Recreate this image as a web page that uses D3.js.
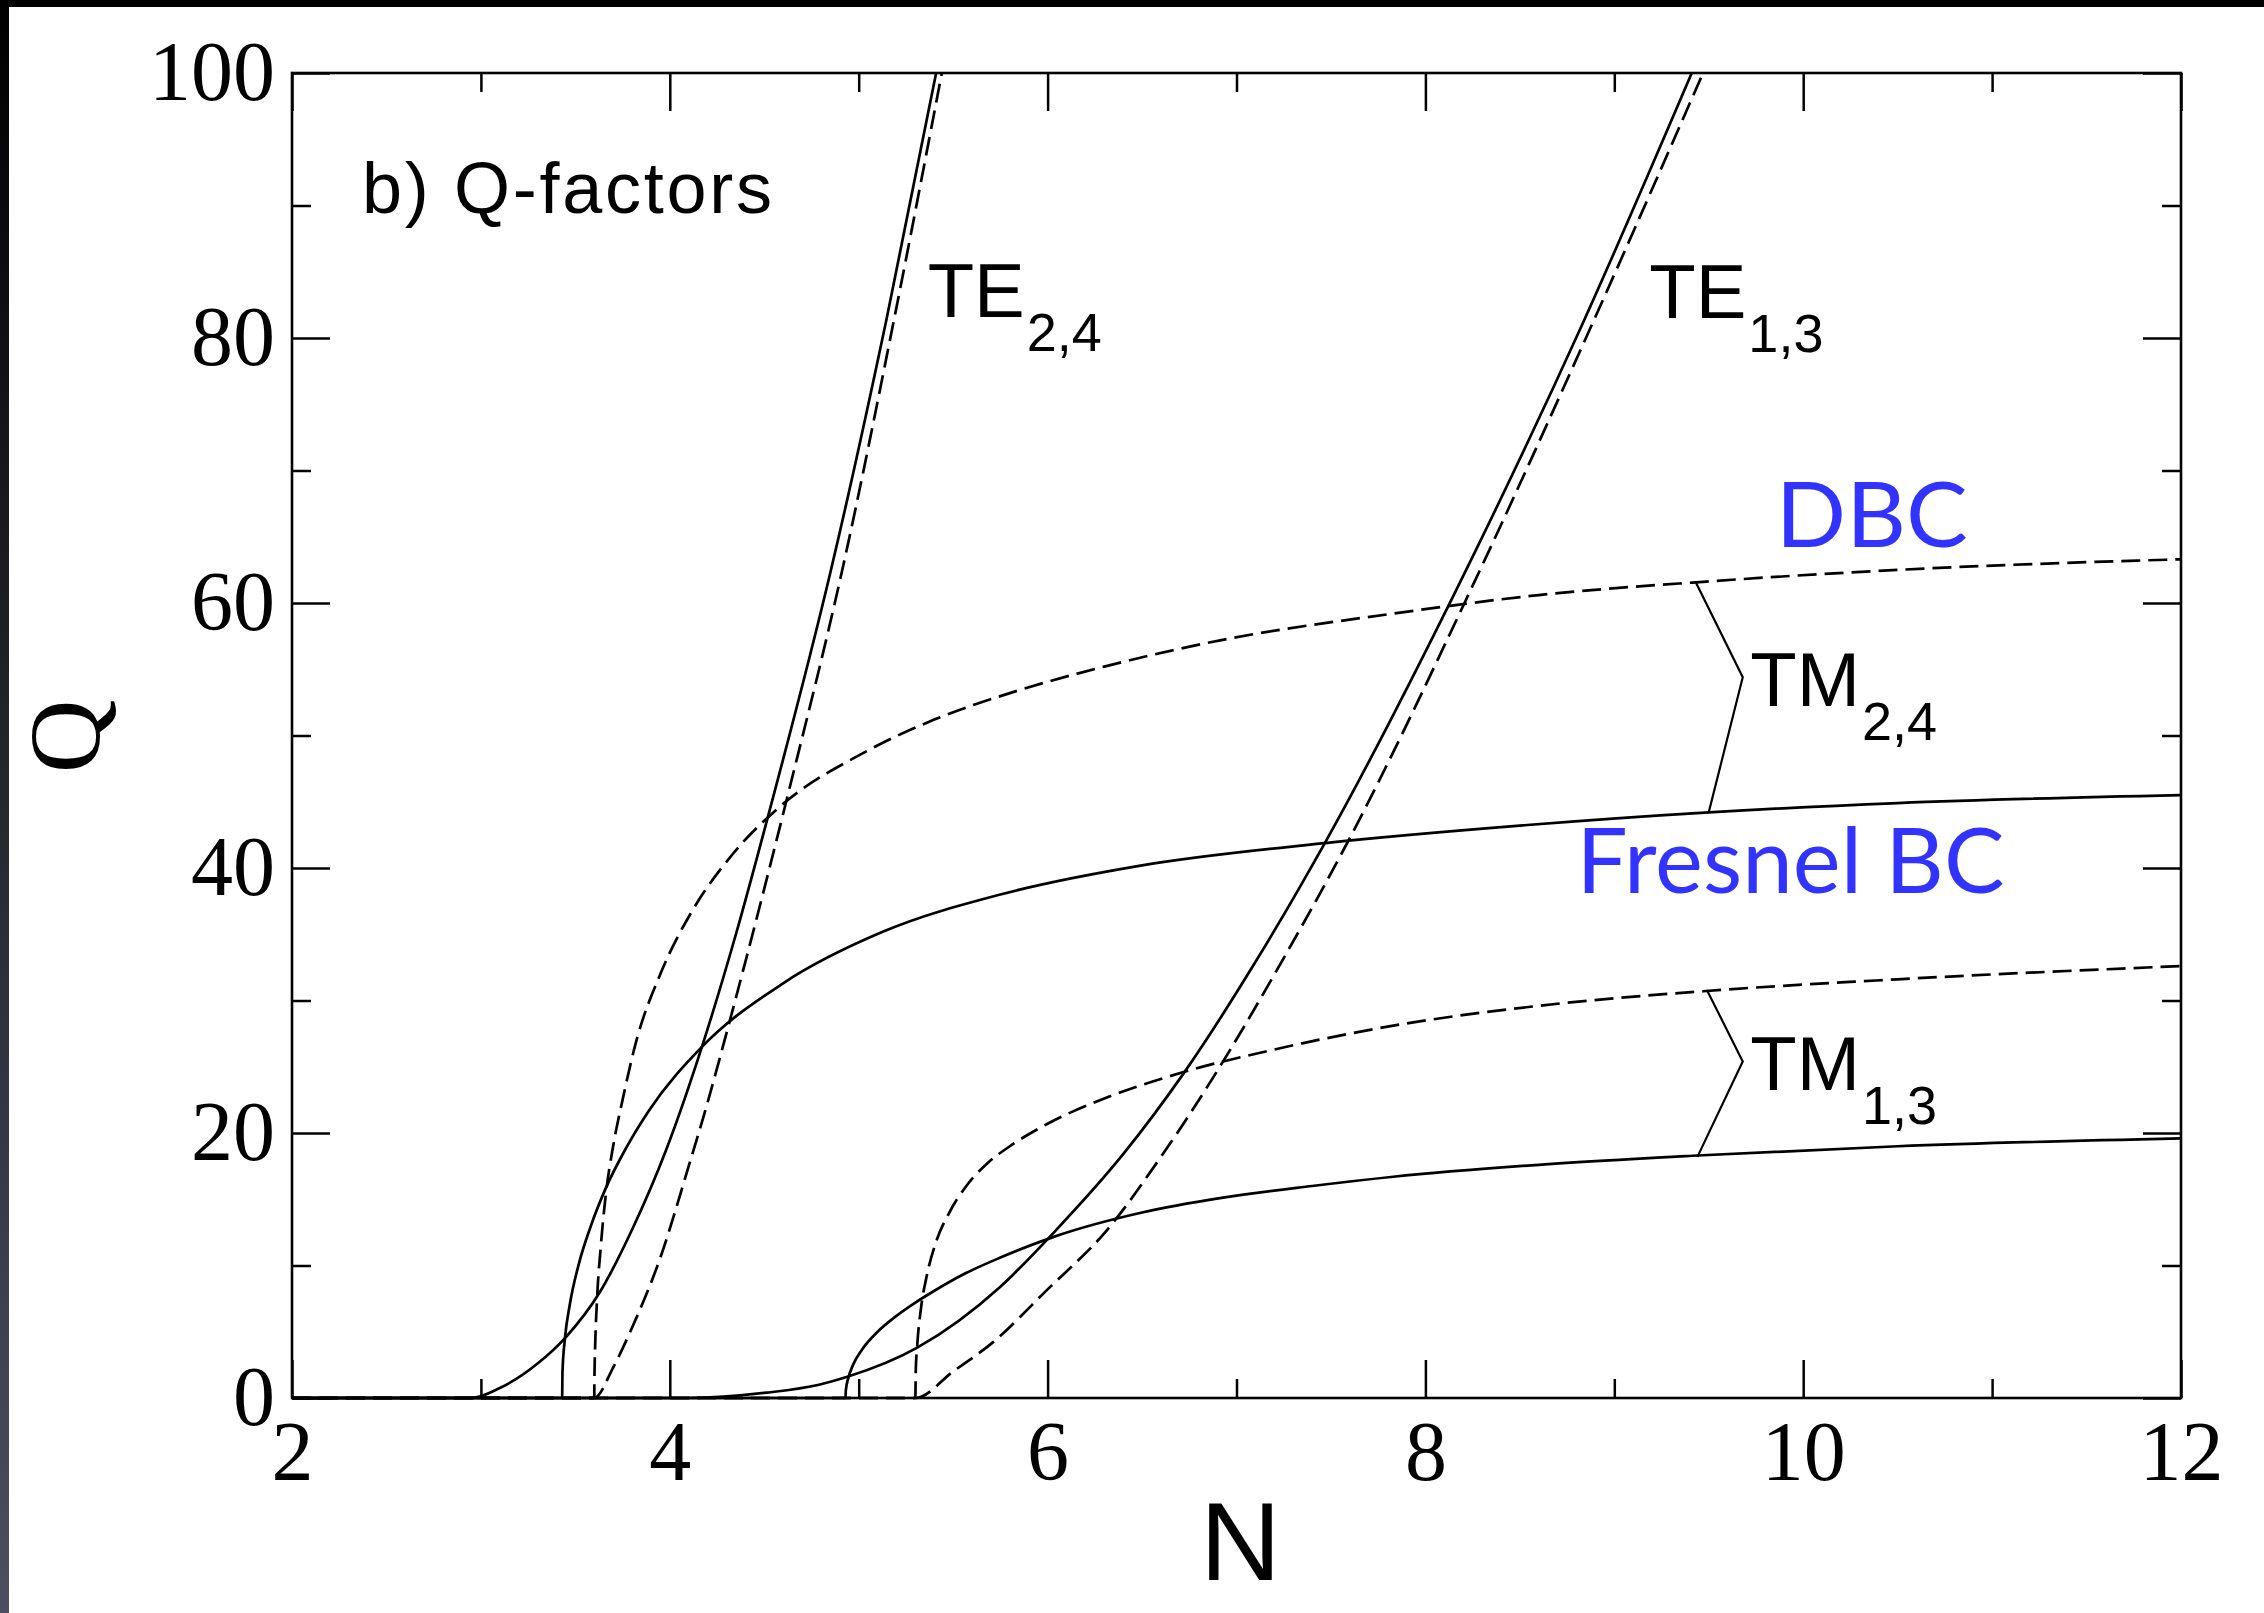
<!DOCTYPE html>
<html>
<head>
<meta charset="utf-8">
<script src="https://cdn.jsdelivr.net/npm/d3@7"></script>
<style>
  html, body { margin: 0; padding: 0; background: #fff; }
  svg { display: block; }
</style>
</head>
<body>
<svg id="chart" width="2264" height="1613"></svg>
<script>
// ---------------- data ----------------
const xTicksMajor = [2, 4, 6, 8, 10, 12];
const xTicksMinor = [3, 5, 7, 9, 11];
const yTicksMajor = [0, 20, 40, 60, 80, 100];
const yTicksMinor = [10, 30, 50, 70, 90];

// Q vs N, [N, Q]
const te24Fresnel = [[2,0],[2.95,0],[3.1,0.75],[3.3,2.6],[3.45,4.6],[3.63,8.0],[3.8,12.7],[3.98,18.7],[4.17,26.5],[4.35,35.0],[4.52,43.9],[4.85,62.3],[5.15,81.6],[5.41,100]];
const te24DBC     = [[2,0],[3.6,0],[3.7,2.3],[3.8,5.3],[3.95,10.6],[4.1,17.5],[4.2,22.3],[4.32,28.6],[4.63,45.8],[4.91,62.3],[5.19,81.6],[5.44,100]];
const tm24Fresnel = [[2,0],[3.43,0],[3.432,2.0],[3.445,4.5],[3.47,7.0],[3.52,10.2],[3.58,12.9],[3.66,15.8],[3.77,18.9],[3.89,21.7],[4.17,26.5],[4.6,31.3],[5.13,35.2],[5.75,38.0],[6.5,40.2],[7.48,41.9],[8.5,43.2],[9.5,44.2],[10.5,44.9],[12,45.5]];
const tm24DBC     = [[2,0],[3.6,0],[3.601,1.5],[3.605,4.0],[3.615,7.5],[3.635,11.5],[3.66,15.2],[3.7,19.0],[3.75,22.5],[3.82,26.8],[3.95,32.0],[4.12,36.8],[4.33,41.0],[4.58,44.6],[5.04,48.8],[5.4,51.2],[5.8,53.2],[6.3,55.2],[6.92,57.2],[7.83,59.2],[8.6,60.6],[9.47,61.6],[10.5,62.5],[12,63.3]];
const te13Fresnel = [[2,0],[4.1,0],[4.51,0.4],[4.79,1.0],[4.94,1.6],[5.31,3.8],[5.75,8.4],[6.04,12.6],[6.4,18.4],[6.72,24.5],[7.1,32.9],[7.48,42.2],[8.15,60.6],[8.82,80.7],[9.41,100]];
const te13DBC     = [[2,0],[5.3,0],[5.5,2.0],[5.71,4.2],[6.0,8.2],[6.31,12.6],[6.6,18.2],[6.89,24.5],[7.25,33.2],[7.59,42.0],[8.24,61.0],[8.9,81.6],[9.47,100]];
const tm13Fresnel = [[2,0],[4.93,0],[4.932,0.6],[4.945,1.5],[4.97,2.5],[5.02,3.7],[5.1,5.0],[5.2,6.2],[5.3,7.2],[5.39,8.0],[5.55,9.3],[5.75,10.6],[6.04,12.2],[6.5,14.0],[6.92,15.1],[7.4,16.0],[7.83,16.7],[8.6,17.6],[9.44,18.3],[10.5,19.0],[12,19.6]];
const tm13DBC     = [[2,0],[5.3,0],[5.302,2.0],[5.31,4.0],[5.33,6.8],[5.36,9.2],[5.41,11.8],[5.48,14.0],[5.57,16.0],[5.68,17.7],[5.8,19.0],[6.0,20.7],[6.3,22.6],[6.72,24.6],[7.2,26.3],[7.83,28.1],[8.6,29.6],[9.47,30.7],[10.5,31.6],[12,32.6]];

const tm24Bracket = [[9.43,61.6],[9.68,54.4],[9.50,44.2]];
const tm13Bracket = [[9.49,30.8],[9.68,25.4],[9.44,18.2]];

const seriesList = [
  { name: "TE24 Fresnel", values: te24Fresnel, dashed: false },
  { name: "TE24 DBC",     values: te24DBC,     dashed: true },
  { name: "TM24 Fresnel", values: tm24Fresnel, dashed: false },
  { name: "TM24 DBC",     values: tm24DBC,     dashed: true },
  { name: "TE13 Fresnel", values: te13Fresnel, dashed: false },
  { name: "TE13 DBC",     values: te13DBC,     dashed: true },
  { name: "TM13 Fresnel", values: tm13Fresnel, dashed: false },
  { name: "TM13 DBC",     values: tm13DBC,     dashed: true }
];

// ---------------- layout ----------------
const W = 2264, H = 1613;
const plot = { left: 292, right: 2181, top: 73, bottom: 1398 };

const svg = d3.select("#chart");

// page frame decorations
const defs = svg.append("defs");
const grad = defs.append("linearGradient").attr("id", "leftStrip")
  .attr("x1", 0).attr("y1", 0).attr("x2", 0).attr("y2", 1);
grad.append("stop").attr("offset", "0%").attr("stop-color", "#000");
grad.append("stop").attr("offset", "100%").attr("stop-color", "#4e4e60");
svg.append("rect").attr("x", 0).attr("y", 0).attr("width", W).attr("height", H).attr("fill", "#fff");
svg.append("rect").attr("x", 0).attr("y", 0).attr("width", 9).attr("height", H).attr("fill", "url(#leftStrip)");
svg.append("rect").attr("x", 0).attr("y", 0).attr("width", W).attr("height", 7).attr("fill", "#000");

const x = d3.scaleLinear().domain([2, 12]).range([plot.left, plot.right]);
const y = d3.scaleLinear().domain([0, 100]).range([plot.bottom, plot.top]);

defs.append("clipPath").attr("id", "plotClip").append("rect")
  .attr("x", plot.left).attr("y", plot.top - 2)
  .attr("width", plot.right - plot.left).attr("height", plot.bottom - plot.top + 4);

// curves
const line = d3.line().x(d => x(d[0])).y(d => y(d[1])).curve(d3.curveMonotoneX);
const gCurves = svg.append("g").attr("clip-path", "url(#plotClip)");
gCurves.selectAll("path.series").data(seriesList).join("path")
  .attr("class", "series")
  .attr("d", d => line(d.values))
  .attr("fill", "none")
  .attr("stroke", "#000")
  .attr("stroke-width", 2.7)
  .attr("stroke-dasharray", d => d.dashed ? "19,8" : null);

// brackets
const bline = d3.line().x(d => x(d[0])).y(d => y(d[1]));
svg.selectAll("path.bracket").data([tm24Bracket, tm13Bracket]).join("path")
  .attr("class", "bracket")
  .attr("d", d => bline(d))
  .attr("fill", "none").attr("stroke", "#000").attr("stroke-width", 2.2);

// axes (ticks pointing inward on all four sides)
const serif = "'Liberation Serif', 'Times New Roman', serif";
const sans = "'Liberation Sans', Arial, Helvetica, sans-serif";
const major = 38, minor = 19;

function styleAxis(g) {
  g.select(".domain").remove();
  g.selectAll(".tick line").attr("stroke", "#000").attr("stroke-width", 2.5);
  g.selectAll(".tick text").attr("fill", "#000").style("font-family", serif).style("font-size", "84px");
}

svg.append("g").attr("transform", `translate(0,${plot.bottom})`)
  .call(d3.axisBottom(x).tickValues(xTicksMajor).tickSize(-major).tickPadding(22).tickFormat(d3.format("d")))
  .call(styleAxis);
svg.append("g").attr("transform", `translate(0,${plot.bottom})`)
  .call(d3.axisBottom(x).tickValues(xTicksMinor).tickSize(-minor).tickFormat(""))
  .call(styleAxis);
svg.append("g").attr("transform", `translate(0,${plot.top})`)
  .call(d3.axisTop(x).tickValues(xTicksMajor).tickSize(-major).tickFormat(""))
  .call(styleAxis);
svg.append("g").attr("transform", `translate(0,${plot.top})`)
  .call(d3.axisTop(x).tickValues(xTicksMinor).tickSize(-minor).tickFormat(""))
  .call(styleAxis);
svg.append("g").attr("transform", `translate(${plot.left},0)`)
  .call(d3.axisLeft(y).tickValues(yTicksMajor).tickSize(-major).tickPadding(17).tickFormat(d3.format("d")))
  .call(styleAxis);
svg.append("g").attr("transform", `translate(${plot.left},0)`)
  .call(d3.axisLeft(y).tickValues(yTicksMinor).tickSize(-minor).tickFormat(""))
  .call(styleAxis);
svg.append("g").attr("transform", `translate(${plot.right},0)`)
  .call(d3.axisRight(y).tickValues(yTicksMajor).tickSize(-major).tickFormat(""))
  .call(styleAxis);
svg.append("g").attr("transform", `translate(${plot.right},0)`)
  .call(d3.axisRight(y).tickValues(yTicksMinor).tickSize(-minor).tickFormat(""))
  .call(styleAxis);

// frame
svg.append("rect")
  .attr("x", plot.left).attr("y", plot.top)
  .attr("width", plot.right - plot.left).attr("height", plot.bottom - plot.top)
  .attr("fill", "none").attr("stroke", "#000").attr("stroke-width", 2.6);

// axis titles
svg.append("text").attr("x", (plot.left + plot.right) / 2 + 4).attr("y", 1580)
  .attr("text-anchor", "middle").style("font-family", sans).style("font-size", "112px")
  .attr("fill", "#000").text("N");
svg.append("text").attr("transform", `translate(100,${(plot.top + plot.bottom) / 2 + 1}) rotate(-90)`)
  .attr("text-anchor", "middle").style("font-family", serif).style("font-size", "102px")
  .attr("fill", "#000").text("Q");

// panel label
svg.append("text").attr("x", x(2.37)).attr("y", y(89.4))
  .style("font-family", sans).style("font-size", "72px").attr("fill", "#000")
  .attr("textLength", 410).attr("lengthAdjust", "spacing")
  .text("b) Q-factors");

// mode labels with subscripts
function modeLabel(n, q, main, sub) {
  const t = svg.append("text").attr("x", x(n)).attr("y", y(q))
    .style("font-family", sans).style("font-size", "76px").attr("fill", "#000");
  t.append("tspan").text(main);
  t.append("tspan").attr("dx", 2).attr("dy", 34).style("font-size", "54px").text(sub);
}
modeLabel(5.365, 81.6, "TE", "2,4");
modeLabel(9.185, 81.5, "TE", "1,3");
modeLabel(9.72, 52.2, "TM", "2,4");
modeLabel(9.72, 23.25, "TM", "1,3");

// boundary-condition labels
const blueFont = "Lato, 'Open Sans', sans-serif";
svg.append("text").attr("x", x(9.855)).attr("y", y(64.2))
  .style("font-family", blueFont).style("font-size", "91px").attr("fill", "#3333ff")
  .attr("textLength", 192).attr("lengthAdjust", "spacingAndGlyphs").text("DBC");
svg.append("text").attr("x", x(8.80)).attr("y", y(38.1))
  .style("font-family", blueFont).style("font-size", "91px").attr("fill", "#3333ff")
  .attr("textLength", 428).attr("lengthAdjust", "spacingAndGlyphs").text("Fresnel BC");
</script>
</body>
</html>
